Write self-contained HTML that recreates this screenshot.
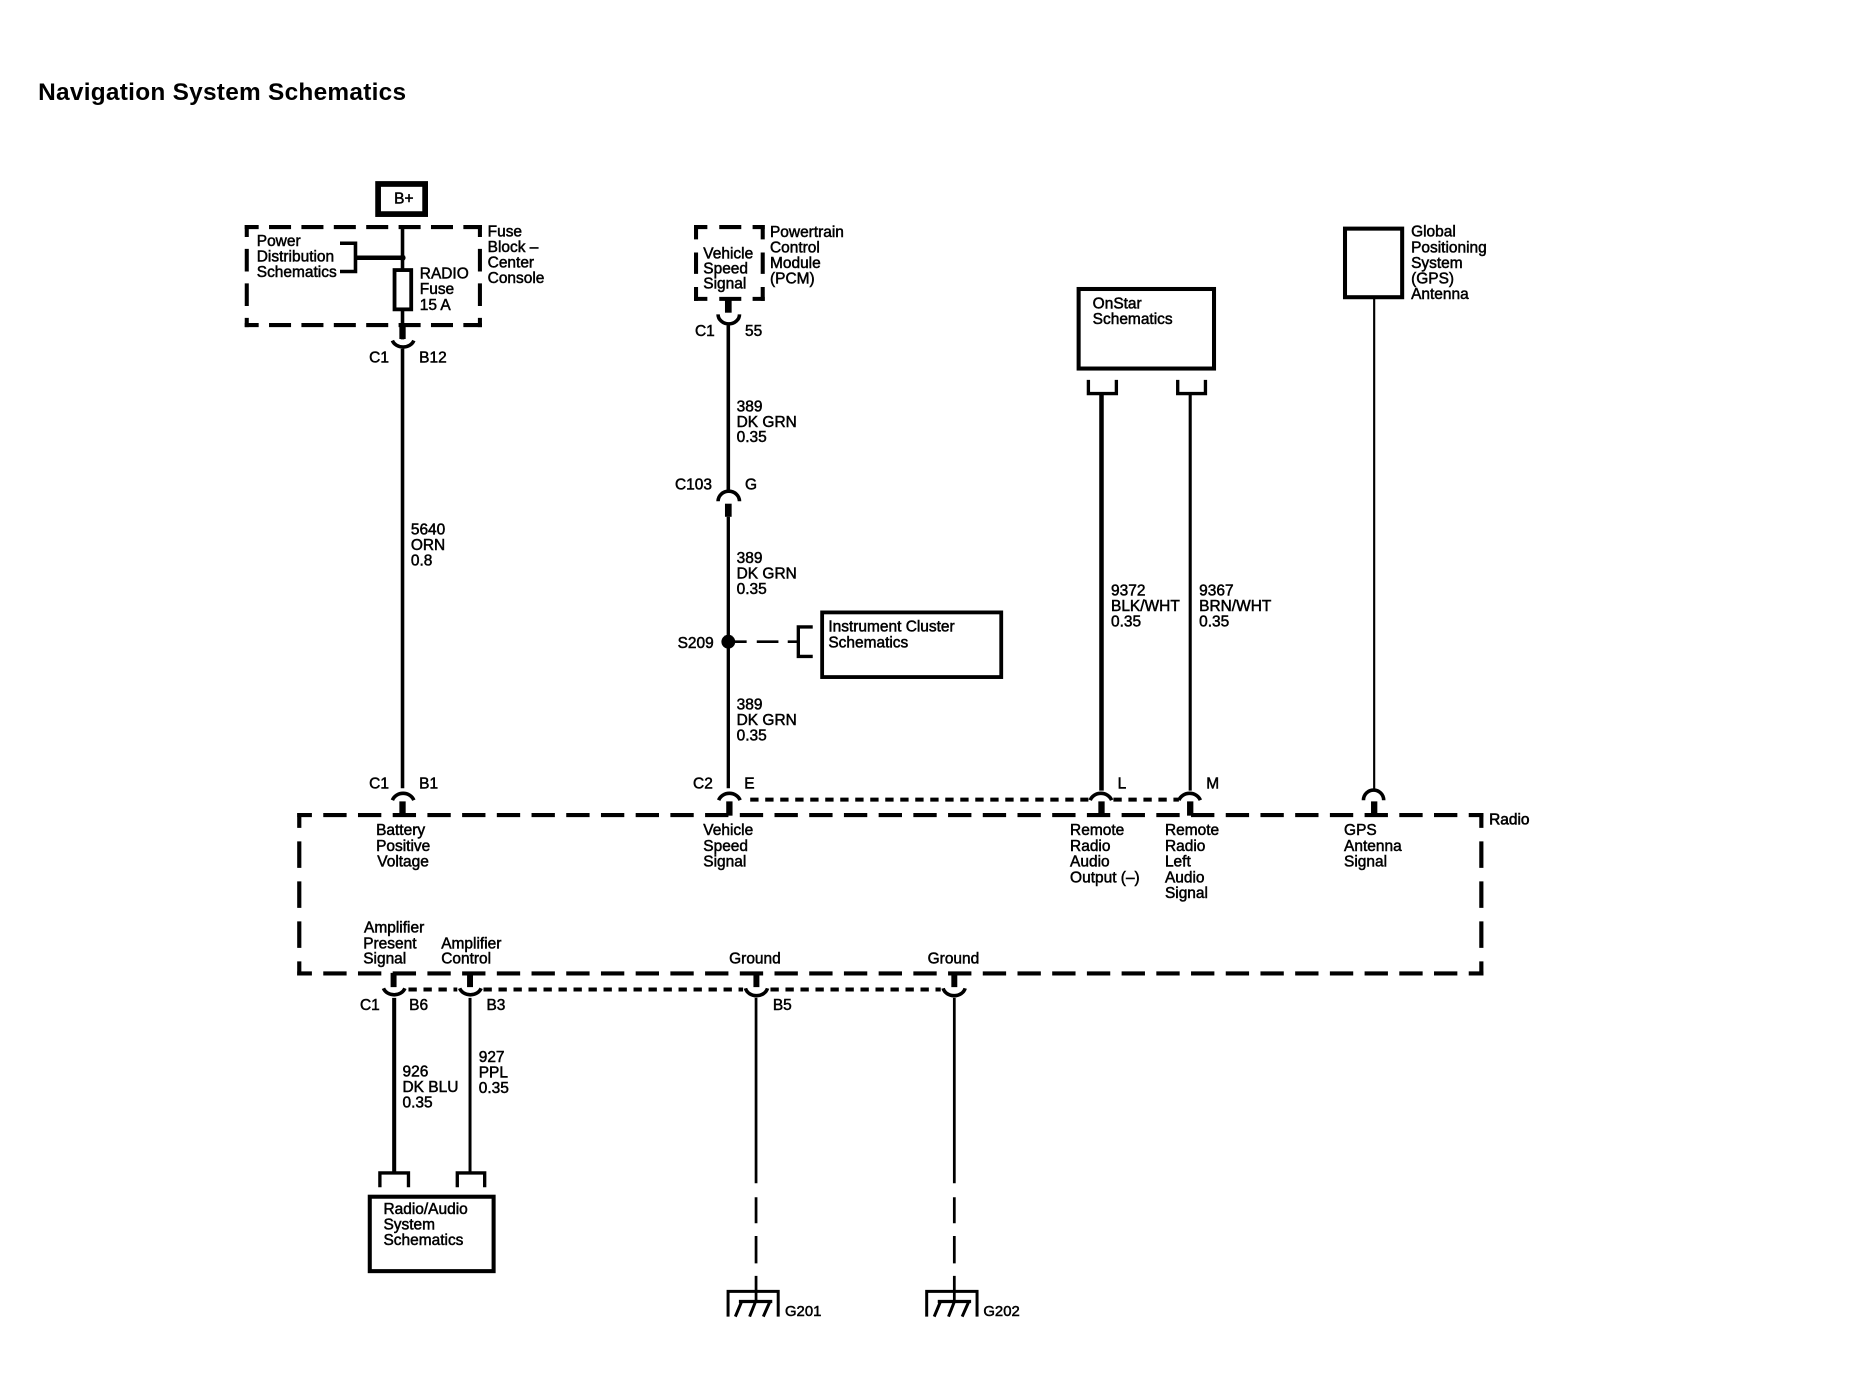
<!DOCTYPE html>
<html><head><meta charset="utf-8"><style>
html,body{margin:0;padding:0;background:#fff}
svg{display:block}
text{font-family:"Liberation Sans",sans-serif;font-size:13px;fill:#000;stroke:#000;stroke-width:.42}
.w{fill:none;stroke:#000}
</style></head><body>
<svg width="1866" height="1392" viewBox="0 0 1567 1169" xmlns="http://www.w3.org/2000/svg">
<rect width="1567" height="1169" fill="#fff"/>
<text x="32" y="84" style="font-size:20.5px;font-weight:bold;stroke-width:0" textLength="309">Navigation System Schematics</text>

<!-- B+ -->
<rect class="w" x="317.500" y="154.500" width="39.500" height="25.300" stroke-width="4.800"/>
<text x="331" y="171">B+</text>
<!-- Fuse block -->
<g class="w" stroke-width="3.400">
<path stroke-dasharray="18.500 8.700" stroke-dashoffset="6.800" d="M205.500 190.700H404.700M205.500 273H404.700"/>
<path stroke-dasharray="19 10" stroke-dashoffset="9" d="M207.200 189V274.700M403 189V274.700"/>
</g>
<text x="409.500" y="198.500">Fuse</text><text x="409.500" y="211.500">Block –</text><text x="409.500" y="224.500">Center</text><text x="409.500" y="237.700">Console</text>
<text x="215.600" y="206.600">Power</text><text x="215.600" y="219.700">Distribution</text><text x="215.600" y="232.500">Schematics</text>
<path class="w" stroke-width="3" d="M338 190V226M338 260V285"/>
<rect class="w" x="331.300" y="226.800" width="14" height="33" stroke-width="3.200"/>
<text x="352.500" y="233.700">RADIO</text><text x="352.500" y="246.900">Fuse</text><text x="352.500" y="260.300">15 A</text>
<path class="w" stroke-width="3" d="M285.500 204.300H298.500V228H285.500"/>
<path class="w" stroke-width="3.800" d="M298.500 216.500H338"/>
<circle cx="338" cy="216.500" r="2.600"/>
<path class="w" stroke-width="5.300" d="M338 274V284.700"/>
<path class="w" stroke-width="3" d="M329.500 286A9.500 8 0 0 0 347.500 286M338 293V662"/>
<text x="310" y="304.600">C1</text><text x="352" y="304.600">B12</text>
<text x="345" y="449">5640</text><text x="345" y="462">ORN</text><text x="345" y="475">0.8</text>

<!-- Radio box -->
<g class="w" stroke-width="3.500">
<path stroke-dasharray="19.600 9.550" stroke-dashoffset="7.300" d="M249.600 684.500H1245.700M249.600 817.500H1245.700"/>
<path stroke-dasharray="22.200 11.400" stroke-dashoffset="9.800" d="M251.300 682.800V819.200M1244 682.800V819.200"/>
</g>
<text x="1250.500" y="692.300" style="stroke-width:.5">Radio</text>

<!-- top connectors on radio -->
<g class="w">
<path stroke-width="3" d="M329.500 672A9.500 8.500 0 0 1 347.500 672"/><path stroke-width="5.300" d="M338 673V684"/>
<path stroke-width="3" d="M603.500 672A9.500 8.500 0 0 1 621.500 672"/><path stroke-width="5.300" d="M612.500 673V685"/>
<path stroke-width="3" d="M915.500 672A9.500 8.500 0 0 1 933.500 672"/><path stroke-width="5.300" d="M925 673V684"/>
<path stroke-width="3" d="M990 672A9.500 8.500 0 0 1 1008 672"/><path stroke-width="5.300" d="M999.500 673V685"/>
<path stroke-width="3" d="M1145 672A8.500 8.500 0 0 1 1162 672"/><path stroke-width="5.300" d="M1154 673V684"/>
</g>
<path class="w" stroke-width="3.400" stroke-dasharray="7 5.600" d="M630 671.500H914M935 671.500H990"/>
<text x="310" y="662">C1</text><text x="352" y="662">B1</text>
<text x="582" y="662">C2</text><text x="625" y="662">E</text>
<text x="938.600" y="662">L</text><text x="1013" y="662">M</text>
<text x="315.800" y="701.300">Battery</text><text x="315.800" y="714.500">Positive</text><text x="316.800" y="727.800">Voltage</text>
<text x="590.600" y="701.300">Vehicle</text><text x="590.600" y="714.500">Speed</text><text x="590.600" y="727.800">Signal</text>
<text x="898.600" y="701.300">Remote</text><text x="898.600" y="714.500">Radio</text><text x="898.600" y="727.800">Audio</text><text x="898.600" y="741">Output (–)</text>
<text x="978.300" y="701.300">Remote</text><text x="978.300" y="714.500">Radio</text><text x="978.300" y="727.800">Left</text><text x="978.300" y="741">Audio</text><text x="978.300" y="754">Signal</text>
<text x="1128.700" y="701.300">GPS</text><text x="1128.700" y="714.500">Antenna</text><text x="1128.700" y="727.800">Signal</text>

<!-- PCM column -->
<g class="w" stroke-width="3.400">
<path d="M582.800 190.700H594M604 190.700H622.500M632 190.700H642.200M582.800 251H594M604 251H622.500M632 251H642.200"/>
<path d="M584.500 189V201M584.500 212V230M584.500 241V252.700M640.500 189V201M640.500 212V230M640.500 241V252.700"/>
</g>
<text x="590.600" y="217">Vehicle</text><text x="590.600" y="229.600">Speed</text><text x="590.600" y="242.300">Signal</text>
<text x="646.600" y="199">Powertrain</text><text x="646.600" y="212">Control</text><text x="646.600" y="225">Module</text><text x="646.600" y="238">(PCM)</text>
<path class="w" stroke-width="5.600" d="M611.600 251V262.600"/>
<path class="w" stroke-width="3" d="M603 264A9 8 0 0 0 621 264M611.600 271V412"/>
<text x="583.600" y="282.200">C1</text><text x="625.600" y="282.200">55</text>
<text x="618.600" y="345.700">389</text><text x="618.600" y="358.500">DK GRN</text><text x="618.600" y="371.300">0.35</text>
<text x="566.800" y="411">C103</text><text x="625.600" y="411">G</text>
<path class="w" stroke-width="3" d="M603 421A9 8.500 0 0 1 621 421"/>
<path class="w" stroke-width="5.600" d="M611.600 423V434"/>
<path class="w" stroke-width="2.800" d="M611.600 434V662"/>
<text x="618.600" y="473">389</text><text x="618.600" y="486">DK GRN</text><text x="618.600" y="499">0.35</text>
<text x="569" y="544">S209</text>
<circle cx="611.600" cy="538.900" r="5.800"/>
<path class="w" stroke-width="2.200" d="M617 538.900H627M635.500 538.900H653.700M661.500 538.900H670.400"/>
<path class="w" stroke-width="2.800" d="M682.500 526.500H670.400V551.300H682.500"/>
<rect class="w" x="690.400" y="514.300" width="150.400" height="54.300" stroke-width="3.200"/>
<text x="695.600" y="530.500">Instrument Cluster</text><text x="695.600" y="543.900">Schematics</text>
<text x="618.600" y="596">389</text><text x="618.600" y="609">DK GRN</text><text x="618.600" y="622">0.35</text>

<!-- OnStar -->
<rect class="w" x="905.800" y="242.700" width="113.700" height="66.800" stroke-width="3.400"/>
<text x="917.600" y="258.900">OnStar</text><text x="917.600" y="272">Schematics</text>
<path class="w" stroke-width="2.800" d="M914 319V330.500H937.500V319M989 319V330.500H1012.300V319"/>
<path class="w" stroke-width="3.800" d="M925 330V664"/>
<path class="w" stroke-width="2.600" d="M999.500 330V664"/>
<text x="933" y="500">9372</text><text x="933" y="513">BLK/WHT</text><text x="933" y="526">0.35</text>
<text x="1007" y="500">9367</text><text x="1007" y="513">BRN/WHT</text><text x="1007" y="526">0.35</text>

<!-- GPS -->
<rect class="w" x="1129.500" y="192" width="48" height="57.600" stroke-width="3.400"/>
<path class="w" stroke-width="1.800" d="M1154 250V664"/>
<text x="1185" y="198.800">Global</text><text x="1185" y="211.900">Positioning</text><text x="1185" y="225.200">System</text><text x="1185" y="238">(GPS)</text><text x="1185" y="251.100">Antenna</text>

<!-- Bottom row -->
<text x="305.700" y="783.200">Amplifier</text><text x="305" y="796.400">Present</text><text x="305" y="809">Signal</text>
<text x="370.500" y="796.400">Amplifier</text><text x="370.500" y="809">Control</text>
<text x="612.300" y="809">Ground</text><text x="779" y="809">Ground</text>
<path class="w" stroke-width="5" d="M330.500 817V829M394.700 817V829M635.200 817V829M801.400 817V829"/>
<path class="w" stroke-width="3" d="M322 830A9.500 8 0 0 0 340 830M386 830A9.500 8 0 0 0 404 830M626 830A9.500 8 0 0 0 644.500 830M792 830A9.500 8 0 0 0 810.500 830"/>
<path class="w" stroke-width="3.400" stroke-dasharray="7 5.600" d="M343 831H384M406 831H624M647 831H790"/>
<text x="302.300" y="848">C1</text><text x="343.600" y="848">B6</text><text x="408.500" y="848">B3</text><text x="649" y="848">B5</text>
<path class="w" stroke-width="3.400" d="M331 838V985"/>
<path class="w" stroke-width="2.500" d="M394.700 838V985"/>
<text x="338" y="904">926</text><text x="338" y="917">DK BLU</text><text x="338" y="930">0.35</text>
<text x="402" y="892">927</text><text x="402" y="905">PPL</text><text x="402" y="918">0.35</text>
<path class="w" stroke-width="2.800" d="M319 997V985H343V997M384 997V985H407V997"/>
<rect class="w" x="310.500" y="1005" width="104" height="62.500" stroke-width="3.400"/>
<text x="322" y="1019.500">Radio/Audio</text><text x="322" y="1032.500">System</text><text x="322" y="1045.500">Schematics</text>

<!-- Grounds -->
<path class="w" stroke-width="2.300" d="M634.900 838V993.700M634.900 1005.500V1027.300M634.900 1038V1061M634.900 1071.500V1092"/>
<path class="w" stroke-width="2.300" d="M801.400 838V993.700M801.400 1005.500V1027.300M801.400 1038V1061M801.400 1071.500V1092"/>
<path class="w" stroke-width="2.500" d="M611.400 1105.700V1084.500H653.500V1105.700M778.200 1105.700V1084.500H820.500V1105.700"/>
<path class="w" stroke-width="2.800" d="M620.500 1093H648.500M787.500 1093H815.500"/>
<path class="w" stroke-width="2.500" d="M622.800 1093L617.500 1105.700M634.500 1093L629.500 1105.700M646.600 1093L641 1105.700M789.800 1093L784.500 1105.700M801.500 1093L796.500 1105.700M813.600 1093L808 1105.700"/>
<text x="659.200" y="1105" style="font-size:12.500px">G201</text><text x="825.800" y="1105" style="font-size:12.500px">G202</text>
</svg>
</body></html>
